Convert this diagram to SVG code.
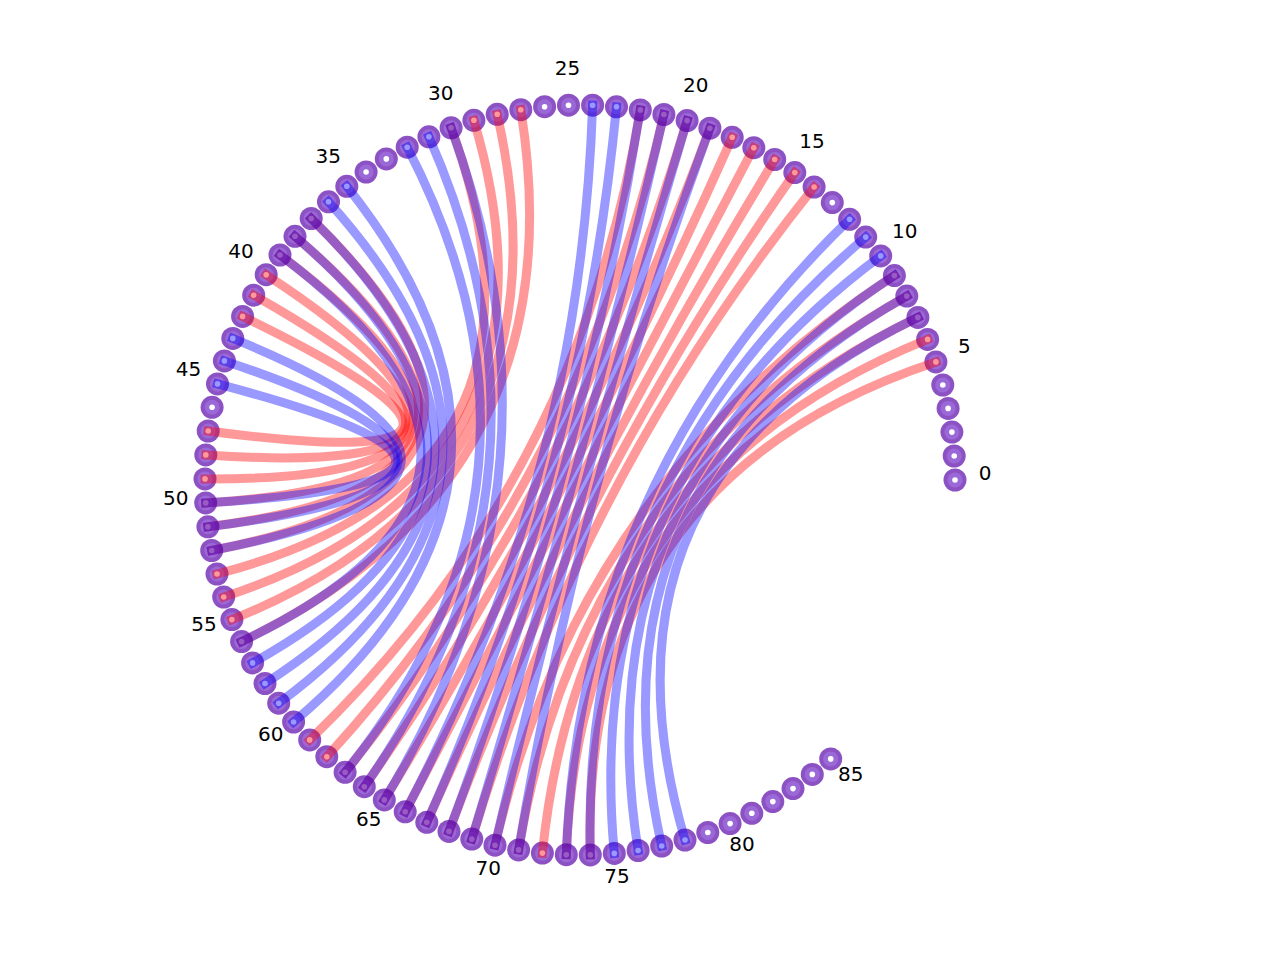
<svg xmlns="http://www.w3.org/2000/svg" xmlns:xlink="http://www.w3.org/1999/xlink" width="1280" height="960" viewBox="0 0 1280 960">
<style>
.r{fill:none;stroke:#ff0000;stroke-opacity:0.4;stroke-width:9;stroke-linecap:square}
.b{fill:none;stroke:#0000ff;stroke-opacity:0.4;stroke-width:9;stroke-linecap:square}
text{font-family:"DejaVu Sans","Liberation Sans",sans-serif;font-size:20px;fill:#000;text-anchor:middle}
</style>
<defs>
<g id="nd"><circle r="11.5" fill="#8c52c4"/><circle r="7.5" fill="#9b69d7"/><circle r="2.8" fill="#ffffff"/></g>
</defs>
<rect width="1280" height="960" fill="#ffffff"/>
<g id="nodes">
<g id="node0"><use xlink:href="#nd" x="955.0" y="480.0"/><text x="985.0" y="480.0">0</text></g>
<g id="node1"><use xlink:href="#nd" x="954.2" y="456.0"/></g>
<g id="node2"><use xlink:href="#nd" x="951.9" y="432.1"/></g>
<g id="node3"><use xlink:href="#nd" x="948.1" y="408.4"/></g>
<g id="node4"><use xlink:href="#nd" x="942.8" y="385.0"/></g>
<g id="node5"><use xlink:href="#nd" x="935.9" y="361.9"/><text x="964.4" y="352.5">5</text></g>
<g id="node6"><use xlink:href="#nd" x="927.6" y="339.4"/></g>
<g id="node7"><use xlink:href="#nd" x="917.9" y="317.4"/></g>
<g id="node8"><use xlink:href="#nd" x="906.8" y="296.1"/></g>
<g id="node9"><use xlink:href="#nd" x="894.4" y="275.6"/></g>
<g id="node10"><use xlink:href="#nd" x="880.7" y="255.9"/><text x="904.7" y="238.0">10</text></g>
<g id="node11"><use xlink:href="#nd" x="865.7" y="237.1"/></g>
<g id="node12"><use xlink:href="#nd" x="849.6" y="219.3"/></g>
<g id="node13"><use xlink:href="#nd" x="832.3" y="202.6"/></g>
<g id="node14"><use xlink:href="#nd" x="814.1" y="187.0"/></g>
<g id="node15"><use xlink:href="#nd" x="794.8" y="172.6"/><text x="812.0" y="148.0">15</text></g>
<g id="node16"><use xlink:href="#nd" x="774.7" y="159.5"/></g>
<g id="node17"><use xlink:href="#nd" x="753.8" y="147.7"/></g>
<g id="node18"><use xlink:href="#nd" x="732.2" y="137.3"/></g>
<g id="node19"><use xlink:href="#nd" x="709.9" y="128.2"/></g>
<g id="node20"><use xlink:href="#nd" x="687.1" y="120.6"/><text x="695.7" y="91.9">20</text></g>
<g id="node21"><use xlink:href="#nd" x="663.9" y="114.5"/></g>
<g id="node22"><use xlink:href="#nd" x="640.3" y="109.9"/></g>
<g id="node23"><use xlink:href="#nd" x="616.5" y="106.8"/></g>
<g id="node24"><use xlink:href="#nd" x="592.6" y="105.2"/></g>
<g id="node25"><use xlink:href="#nd" x="568.5" y="105.2"/><text x="567.6" y="75.2">25</text></g>
<g id="node26"><use xlink:href="#nd" x="544.6" y="106.7"/></g>
<g id="node27"><use xlink:href="#nd" x="520.8" y="109.7"/></g>
<g id="node28"><use xlink:href="#nd" x="497.2" y="114.3"/></g>
<g id="node29"><use xlink:href="#nd" x="473.9" y="120.3"/></g>
<g id="node30"><use xlink:href="#nd" x="451.1" y="127.8"/><text x="440.8" y="99.7">30</text></g>
<g id="node31"><use xlink:href="#nd" x="428.9" y="136.8"/></g>
<g id="node32"><use xlink:href="#nd" x="407.2" y="147.2"/></g>
<g id="node33"><use xlink:href="#nd" x="386.3" y="158.9"/></g>
<g id="node34"><use xlink:href="#nd" x="366.1" y="172.0"/></g>
<g id="node35"><use xlink:href="#nd" x="346.8" y="186.3"/><text x="328.2" y="162.8">35</text></g>
<g id="node36"><use xlink:href="#nd" x="328.5" y="201.8"/></g>
<g id="node37"><use xlink:href="#nd" x="311.2" y="218.5"/></g>
<g id="node38"><use xlink:href="#nd" x="295.0" y="236.3"/></g>
<g id="node39"><use xlink:href="#nd" x="280.0" y="255.0"/></g>
<g id="node40"><use xlink:href="#nd" x="266.2" y="274.7"/><text x="241.1" y="258.2">40</text></g>
<g id="node41"><use xlink:href="#nd" x="253.7" y="295.2"/></g>
<g id="node42"><use xlink:href="#nd" x="242.6" y="316.4"/></g>
<g id="node43"><use xlink:href="#nd" x="232.8" y="338.4"/></g>
<g id="node44"><use xlink:href="#nd" x="224.4" y="360.9"/></g>
<g id="node45"><use xlink:href="#nd" x="217.5" y="383.9"/><text x="188.5" y="376.2">45</text></g>
<g id="node46"><use xlink:href="#nd" x="212.1" y="407.3"/></g>
<g id="node47"><use xlink:href="#nd" x="208.2" y="431.0"/></g>
<g id="node48"><use xlink:href="#nd" x="205.8" y="454.9"/></g>
<g id="node49"><use xlink:href="#nd" x="205.0" y="478.9"/></g>
<g id="node50"><use xlink:href="#nd" x="205.7" y="502.9"/><text x="175.8" y="504.7">50</text></g>
<g id="node51"><use xlink:href="#nd" x="207.9" y="526.8"/></g>
<g id="node52"><use xlink:href="#nd" x="211.7" y="550.5"/></g>
<g id="node53"><use xlink:href="#nd" x="217.0" y="574.0"/></g>
<g id="node54"><use xlink:href="#nd" x="223.7" y="597.0"/></g>
<g id="node55"><use xlink:href="#nd" x="231.9" y="619.6"/><text x="204.1" y="630.7">55</text></g>
<g id="node56"><use xlink:href="#nd" x="241.6" y="641.6"/></g>
<g id="node57"><use xlink:href="#nd" x="252.6" y="662.9"/></g>
<g id="node58"><use xlink:href="#nd" x="265.0" y="683.5"/></g>
<g id="node59"><use xlink:href="#nd" x="278.7" y="703.2"/></g>
<g id="node60"><use xlink:href="#nd" x="293.6" y="722.0"/><text x="270.7" y="741.4">60</text></g>
<g id="node61"><use xlink:href="#nd" x="309.7" y="739.9"/></g>
<g id="node62"><use xlink:href="#nd" x="326.8" y="756.7"/></g>
<g id="node63"><use xlink:href="#nd" x="345.1" y="772.3"/></g>
<g id="node64"><use xlink:href="#nd" x="364.3" y="786.7"/></g>
<g id="node65"><use xlink:href="#nd" x="384.3" y="799.9"/><text x="368.7" y="825.5">65</text></g>
<g id="node66"><use xlink:href="#nd" x="405.2" y="811.8"/></g>
<g id="node67"><use xlink:href="#nd" x="426.8" y="822.3"/></g>
<g id="node68"><use xlink:href="#nd" x="449.0" y="831.4"/></g>
<g id="node69"><use xlink:href="#nd" x="471.8" y="839.1"/></g>
<g id="node70"><use xlink:href="#nd" x="495.0" y="845.2"/><text x="488.2" y="874.5">70</text></g>
<g id="node71"><use xlink:href="#nd" x="518.6" y="849.9"/></g>
<g id="node72"><use xlink:href="#nd" x="542.4" y="853.1"/></g>
<g id="node73"><use xlink:href="#nd" x="566.3" y="854.7"/></g>
<g id="node74"><use xlink:href="#nd" x="590.3" y="854.9"/></g>
<g id="node75"><use xlink:href="#nd" x="614.3" y="853.4"/><text x="617.1" y="883.3">75</text></g>
<g id="node76"><use xlink:href="#nd" x="638.1" y="850.5"/></g>
<g id="node77"><use xlink:href="#nd" x="661.7" y="846.0"/></g>
<g id="node78"><use xlink:href="#nd" x="685.0" y="840.0"/></g>
<g id="node79"><use xlink:href="#nd" x="707.8" y="832.5"/></g>
<g id="node80"><use xlink:href="#nd" x="730.1" y="823.6"/><text x="742.1" y="851.1">80</text></g>
<g id="node81"><use xlink:href="#nd" x="751.8" y="813.3"/></g>
<g id="node82"><use xlink:href="#nd" x="772.8" y="801.6"/></g>
<g id="node83"><use xlink:href="#nd" x="793.0" y="788.6"/></g>
<g id="node84"><use xlink:href="#nd" x="812.3" y="774.4"/></g>
<g id="node85"><use xlink:href="#nd" x="830.7" y="758.9"/><text x="850.7" y="781.2">85</text></g>
</g>
<g id="connectors">
<g id="red-edges">
<path class="r" d="M935.9,361.9 Q580,480 590.3,854.9"/>
<path class="r" d="M927.6,339.4 Q580,480 566.3,854.7"/>
<path class="r" d="M917.9,317.4 Q580,480 542.4,853.1"/>
<path class="r" d="M906.8,296.1 Q580,480 518.6,849.9"/>
<path class="r" d="M894.4,275.6 Q580,480 495.0,845.2"/>
<path class="r" d="M814.1,187.0 Q580,480 471.8,839.1"/>
<path class="r" d="M794.8,172.6 Q580,480 449.0,831.4"/>
<path class="r" d="M774.7,159.5 Q580,480 426.8,822.3"/>
<path class="r" d="M753.8,147.7 Q580,480 405.2,811.8"/>
<path class="r" d="M732.2,137.3 Q580,480 384.3,799.9"/>
<path class="r" d="M709.9,128.2 Q580,480 364.3,786.7"/>
<path class="r" d="M687.1,120.6 Q580,480 345.1,772.3"/>
<path class="r" d="M663.9,114.5 Q580,480 326.8,756.7"/>
<path class="r" d="M640.3,109.9 Q580,480 309.7,739.9"/>
<path class="r" d="M520.8,109.7 Q580,480 241.6,641.6"/>
<path class="r" d="M497.2,114.3 Q580,480 231.9,619.6"/>
<path class="r" d="M473.9,120.3 Q580,480 223.7,597.0"/>
<path class="r" d="M451.1,127.8 Q580,480 217.0,574.0"/>
<path class="r" d="M311.2,218.5 Q580,480 211.7,550.5"/>
<path class="r" d="M295.0,236.3 Q580,480 207.9,526.8"/>
<path class="r" d="M280.0,255.0 Q580,480 205.7,502.9"/>
<path class="r" d="M266.2,274.7 Q580,480 205.0,478.9"/>
<path class="r" d="M253.7,295.2 Q580,480 205.8,454.9"/>
<path class="r" d="M242.6,316.4 Q580,480 208.2,431.0"/>
</g>
<g id="blue-edges">
<path class="b" d="M917.9,317.4 Q580,480 685.0,840.0"/>
<path class="b" d="M906.8,296.1 Q580,480 661.7,846.0"/>
<path class="b" d="M894.4,275.6 Q580,480 638.1,850.5"/>
<path class="b" d="M880.7,255.9 Q580,480 614.3,853.4"/>
<path class="b" d="M865.7,237.1 Q580,480 590.3,854.9"/>
<path class="b" d="M849.6,219.3 Q580,480 566.3,854.7"/>
<path class="b" d="M709.9,128.2 Q580,480 518.6,849.9"/>
<path class="b" d="M687.1,120.6 Q580,480 495.0,845.2"/>
<path class="b" d="M663.9,114.5 Q580,480 471.8,839.1"/>
<path class="b" d="M640.3,109.9 Q580,480 449.0,831.4"/>
<path class="b" d="M616.5,106.8 Q580,480 426.8,822.3"/>
<path class="b" d="M592.6,105.2 Q580,480 405.2,811.8"/>
<path class="b" d="M451.1,127.8 Q580,480 384.3,799.9"/>
<path class="b" d="M428.9,136.8 Q580,480 364.3,786.7"/>
<path class="b" d="M407.2,147.2 Q580,480 345.1,772.3"/>
<path class="b" d="M346.8,186.3 Q580,480 293.6,722.0"/>
<path class="b" d="M328.5,201.8 Q580,480 278.7,703.2"/>
<path class="b" d="M311.2,218.5 Q580,480 265.0,683.5"/>
<path class="b" d="M295.0,236.3 Q580,480 252.6,662.9"/>
<path class="b" d="M280.0,255.0 Q580,480 241.6,641.6"/>
<path class="b" d="M232.8,338.4 Q580,480 211.7,550.5"/>
<path class="b" d="M224.4,360.9 Q580,480 207.9,526.8"/>
<path class="b" d="M217.5,383.9 Q580,480 205.7,502.9"/>
</g>
</g>
</svg>
